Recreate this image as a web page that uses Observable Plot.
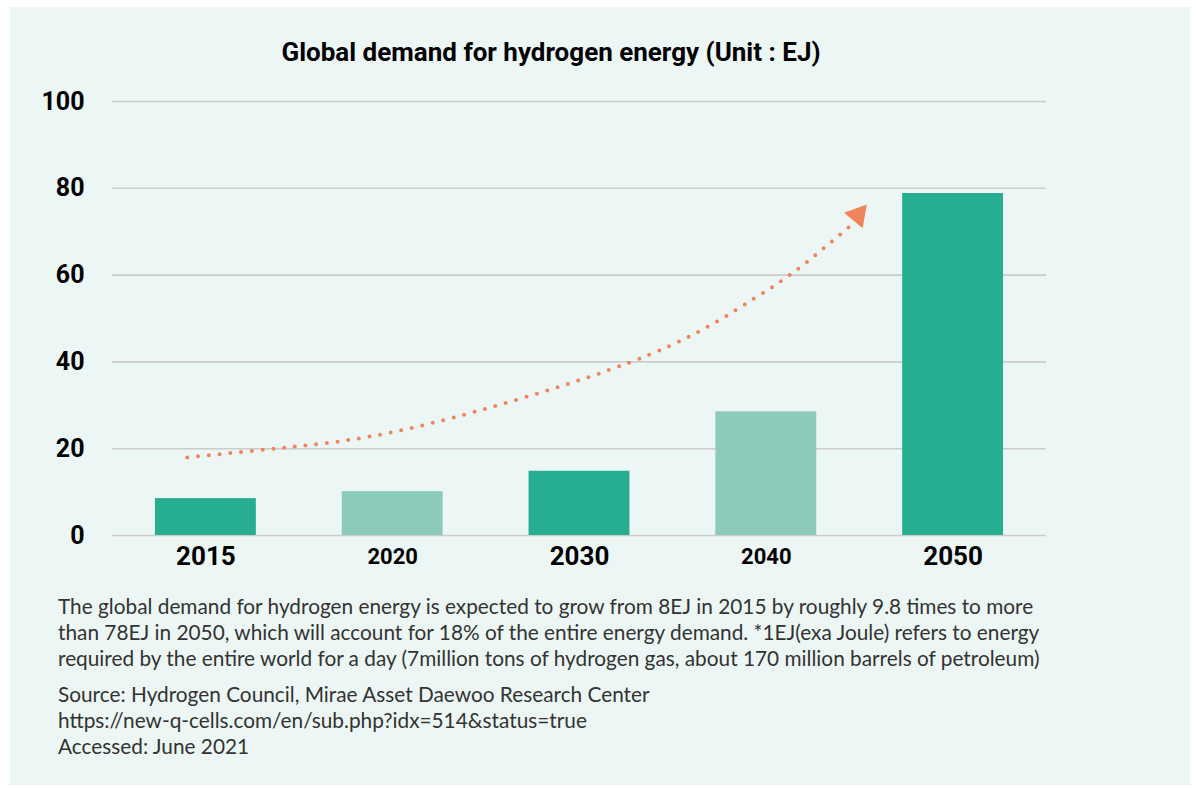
<!DOCTYPE html>
<html>
<head>
<meta charset="utf-8">
<script src="https://cdn.jsdelivr.net/npm/d3@7"></script>
<script src="https://cdn.jsdelivr.net/npm/@observablehq/plot@0.6"></script>
<style>
  html, body { margin: 0; padding: 0; background: #ffffff; }
  #panel { position: absolute; left: 10px; top: 7px; width: 1180px; height: 778px; background: #ecf6f4; }
  #title { position: absolute; left: 0; width: 1082px; top: 30px; text-align: center;
           font-family: Roboto, sans-serif; font-weight: 700; font-size: 26px; color: #000; }
  #chart { position: absolute; left: 0; top: 73px; }
  #note { position: absolute; left: 48px; top: 586px; font-family: Lato, sans-serif; font-size: 20.8px;
          line-height: 26px; color: #333; white-space: nowrap; }
  #note p { margin: 0; }
  #note .src { margin-top: 10px; }
</style>
</head>
<body>
<div id="panel">
  <div id="title">Global demand for hydrogen energy (Unit : EJ)</div>
  <div id="chart"></div>
  <div id="note">
    <p>The global demand for hydrogen energy is expected to grow from 8EJ in 2015 by roughly 9.8 times to more<br>than 78EJ in 2050, which will account for 18% of the entire energy demand. *1EJ(exa Joule) refers to energy<br>required by the entire world for a day (7million tons of hydrogen gas, about 170 million barrels of petroleum)</p>
    <p class="src">Source: Hydrogen Council, Mirae Asset Daewoo Research Center<br>https://new-q-cells.com/en/sub.php?idx=514&amp;status=true<br>Accessed: June 2021</p>
  </div>
</div>
<script>
const years = ["2015", "2020", "2030", "2040", "2050"];
const demand = [8.5, 10.1, 14.8, 28.5, 78.8];
const yTicks = [0, 20, 40, 60, 80, 100];
// trend arrow path, in (bar index, EJ) data space
const trendX = [-0.1, 0.5, 1.19, 2.27, 2.85, 3.15, 3.44];
const trendY = [18, 20.6, 25.7, 39.9, 52.3, 60.8, 71];
const arrowHeadX = [3.49];
const arrowHeadY = [73.8];

const DARK = "#27ad8f", LIGHT = "#8ccab9", ORANGE = "#f0855b";
const half = 0.27;
const bars = years.map((y, i) => ({i, year: y, v: demand[i]}));
const trend = trendX.map((x, k) => ({x, y: trendY[k]}));
const head = arrowHeadX.map((x, k) => ({x, y: arrowHeadY[k]}));

const chart = Plot.plot({
  width: 1180,
  height: 500,
  marginLeft: 102,
  marginRight: 144,
  marginTop: 21,
  marginBottom: 45,
  style: {background: "transparent", color: "#000", fontFamily: "Roboto, sans-serif"},
  x: {type: "linear", domain: [-0.5, 4.5]},
  y: {domain: [0, 100]},
  marks: [
    Plot.gridY(yTicks, {stroke: "#cccccc", strokeOpacity: 1, strokeWidth: 1.6}),
    Plot.rectY(bars, {x1: d => d.i - half, x2: d => d.i + half, y1: 0, y2: "v",
      fill: d => d.i % 2 === 0 ? DARK : LIGHT}),
    Plot.line(trend, {x: "x", y: "y", curve: "natural", stroke: ORANGE, strokeWidth: 4,
      strokeLinecap: "round", strokeDasharray: "0 10.8"}),
    Plot.dot(head, {x: "x", y: "y", symbol: "triangle", r: 9, rotate: 40, fill: ORANGE, stroke: null}),
    Plot.axisY(yTicks, {tickSize: 0, tickPadding: 28, fontSize: 25, fontWeight: 700, label: null}),
    Plot.axisX(bars.filter(d => d.i % 2 === 0).map(d => d.i), {tickSize: 0, tickPadding: 11, fontSize: 26,
      fontWeight: 700, tickFormat: i => years[i], label: null}),
    Plot.axisX(bars.filter(d => d.i % 2 === 1).map(d => d.i), {tickSize: 0, tickPadding: 13, fontSize: 22,
      fontWeight: 700, tickFormat: i => years[i], label: null})
  ]
});
document.getElementById("chart").appendChild(chart);
</script>
</body>
</html>
